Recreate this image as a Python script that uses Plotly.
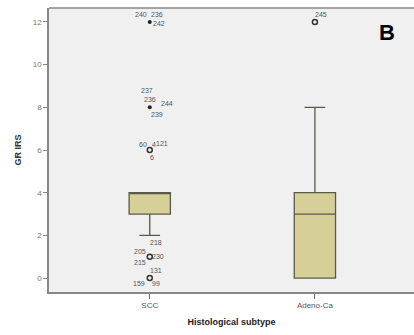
import plotly.graph_objects as go

categories = ["SCC", "Adeno-Ca"]
q1 = [3, 0]
median = [4, 3]
q3 = [4, 4]
lower_whisker = [2, 0]
upper_whisker = [4, 8]

# outliers: (category index, value, marker kind)
out_cat = [0, 0, 0, 0, 0, 1]
out_val = [12, 8, 6, 1, 0, 12]
out_kind = ["extreme", "extreme", "outlier", "outlier", "outlier", "outlier"]

# case labels: (category index, value, text, dx px, dy px)
lab_cat = [0, 0, 0, 0, 0, 0, 0, 0, 0, 0, 0, 0, 0, 0, 0, 0, 0, 0, 1]
lab_val = [12, 12, 12, 8, 8, 8, 8, 6, 6, 6, 6, 2, 1, 1, 1, 1, 0, 0, 12]
lab_text = ["240", "236", "242", "237", "236", "244", "239", "60", "4", "121", "6", "218",
            "205", "230", "215", "131", "159", "99", "245"]
lab_dx = [-9, 7, 9, -3, 0, 17, 7, -7, 4, 12, 2, 6, -10, 8, -10, 6, -11, 6, 6]
lab_dy = [7, 7, -2, 17, 8, 4, -7, 6, 6, 7, -7, -7, 5, 0, -6, -14, -5, -5, 7]

fig = go.Figure()

for i, c in enumerate(categories):
    fig.add_trace(go.Box(
        x=[i], q1=[q1[i]], median=[median[i]], q3=[q3[i]],
        lowerfence=[lower_whisker[i]], upperfence=[upper_whisker[i]],
        width=0.25, whiskerwidth=0.5,
        fillcolor="#d6cf98", line=dict(color="#5a5a48", width=1.3),
        boxpoints=False, showlegend=False, hoverinfo="skip"))

ext_x = [out_cat[k] for k in range(len(out_val)) if out_kind[k] == "extreme"]
ext_y = [out_val[k] for k in range(len(out_val)) if out_kind[k] == "extreme"]
oth_x = [out_cat[k] for k in range(len(out_val)) if out_kind[k] == "outlier"]
oth_y = [out_val[k] for k in range(len(out_val)) if out_kind[k] == "outlier"]

fig.add_trace(go.Scatter(x=ext_x, y=ext_y, mode="markers",
                         marker=dict(symbol="circle", size=4, color="#222"),
                         showlegend=False, hoverinfo="skip"))
fig.add_trace(go.Scatter(x=oth_x, y=oth_y, mode="markers",
                         marker=dict(symbol="circle-open", size=5, color="#333",
                                     line=dict(width=1.5)),
                         showlegend=False, hoverinfo="skip"))

for k in range(len(lab_text)):
    fig.add_annotation(x=lab_cat[k], y=lab_val[k], text=lab_text[k], showarrow=False,
                       xshift=lab_dx[k], yshift=lab_dy[k],
                       font=dict(size=7, color="#555", family="Arial"))

fig.add_annotation(x=0.926, y=0.912, xref="paper", yref="paper", text="<b>B</b>",
                   xanchor="center", yanchor="middle",
                   showarrow=False, font=dict(size=22, color="#000", family="Arial"))

fig.update_layout(
    width=414, height=335,
    margin=dict(l=49, r=0, t=8, b=43),
    paper_bgcolor="white", plot_bgcolor="#f0f0f0",
    xaxis=dict(range=[-0.61, 1.6], tickvals=[0, 1], ticktext=categories,
               ticks="outside", ticklen=5, tickcolor="#666", showgrid=False, zeroline=False,
               showline=True, linecolor="#888", linewidth=1.5, mirror=False,
               tickfont=dict(size=8, color="#555", family="Arial"),
               title=dict(text="<b>Histological subtype</b>", standoff=9,
                          font=dict(size=9, color="#222", family="Arial"))),
    yaxis=dict(range=[-0.65, 12.65], tickvals=[0, 2, 4, 6, 8, 10, 12],
               ticks="outside", ticklen=4, tickcolor="#888", showgrid=False, zeroline=False,
               showline=True, linecolor="#888", linewidth=1.5,
               tickfont=dict(size=8, color="#777", family="Arial"),
               title=dict(text="<b>GR IRS</b>", standoff=10,
                          font=dict(size=9, color="#333", family="Arial"))),
)
fig.add_shape(type="line", xref="paper", yref="paper", x0=0, x1=1, y0=1, y1=1,
              line=dict(color="#888", width=1.5))

fig.write_html("out.html")
